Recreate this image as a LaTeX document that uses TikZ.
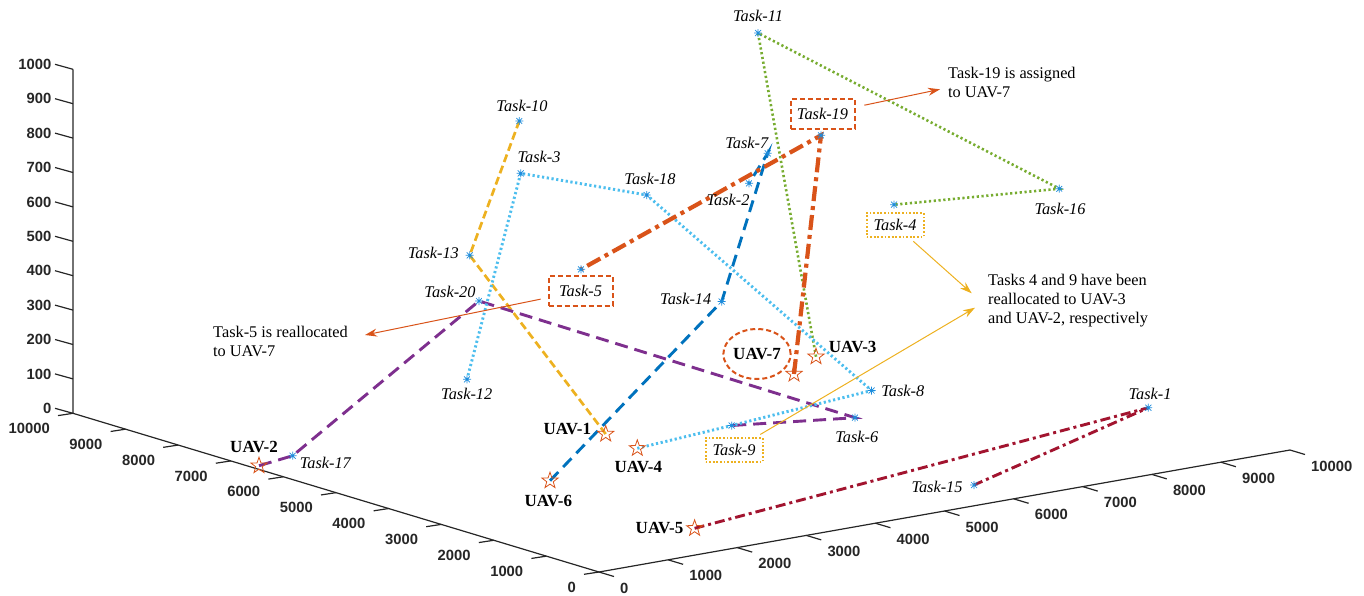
\documentclass[tikz,border=0pt]{standalone}
\usepackage{fontspec}
\setmainfont{Liberation Serif}
\setsansfont{Liberation Sans}
\usepackage{tikz}
\usetikzlibrary{shapes.geometric, arrows.meta, positioning, backgrounds}
\definecolor{uavR}{RGB}{217, 83, 25}
\definecolor{uavY}{RGB}{237,177, 32}
\definecolor{uavP}{RGB}{126, 47,142}
\definecolor{uavG}{RGB}{119,172, 48}
\definecolor{uavC}{RGB}{ 77,190,238}
\definecolor{uavB}{RGB}{  0,114,189}
\definecolor{uavM}{RGB}{162, 20, 47}
\definecolor{mkB}{RGB}{ 30,140,220}

\begin{document}
\begin{tikzpicture}[x=1pt, y=-1pt,
    ax/.style={line width=1.2pt, black!85},
    axnum/.style={font=\fontsize{14.8}{16}\selectfont\sffamily\bfseries, text=black!85, inner sep=0pt},
    tpt/.style={circle, minimum size=9pt, inner sep=0pt,
      path picture={\draw[mkB, line width=0.7pt]
        ([xshift=-4pt]path picture bounding box.center) -- ([xshift=4pt]path picture bounding box.center)
        ([yshift=-4pt]path picture bounding box.center) -- ([yshift=4pt]path picture bounding box.center)
        ([shift={(-3pt,-3pt)}]path picture bounding box.center) -- ([shift={(3pt,3pt)}]path picture bounding box.center)
        ([shift={(-3pt,3pt)}]path picture bounding box.center) -- ([shift={(3pt,-3pt)}]path picture bounding box.center);}},
    uav/.style={star, star points=5, star point ratio=2.5, draw=uavR, line width=0.8pt, minimum size=17pt, inner sep=0pt},
    tlab/.style={font=\fontsize{16.3}{18}\selectfont\itshape, inner sep=0pt},
    ulab/.style={font=\fontsize{17}{19}\selectfont\bfseries, inner sep=0pt},
    note/.style={font=\fontsize{16.3}{19}\selectfont, align=left, inner sep=0pt},
    rbox/.style={tlab, draw=uavR, line width=2pt, dash pattern=on 5pt off 3pt, minimum width=64pt, minimum height=30pt},
    ybox/.style={tlab, draw=uavY, line width=2pt, dash pattern=on 1.8pt off 1.8pt, minimum width=57pt, minimum height=24pt},
    arr/.style={line width=1pt, -{Stealth[length=12pt, width=8pt]}},
    rY/.style={uavY, line width=2.7pt, dash pattern=on 8pt off 4pt},
    rP/.style={uavP, line width=2.9pt, dash pattern=on 13pt off 7pt},
    rG/.style={uavG, line width=2.6pt, dash pattern=on 2.2pt off 2.6pt},
    rC/.style={uavC, line width=2.9pt, dash pattern=on 2.2pt off 2.6pt},
    rM/.style={uavM, line width=2.9pt, dash pattern=on 10pt off 4pt on 3pt off 4pt},
    rB/.style={uavB, line width=2.9pt, dash pattern=on 12pt off 7pt},
    rR/.style={uavR, line width=4.2pt, dash pattern=on 15pt off 5pt on 4pt off 5pt}
  ]
  \useasboundingbox (0,0) rectangle (1364,595);

  % axes
  \coordinate (o) at (73,413.3);
  \coordinate (c) at (599,572);
  \coordinate (e) at (1290,450);
  \draw[ax] (73,69.3) -- (o) -- (c) -- (e);
  \foreach \k in {0,...,10} {
    \draw[ax] (73,{413.3-34.4*\k}) -- ++(-18,-5)
      node[axnum, anchor=east, xshift=-3pt] {\the\numexpr100*\k\relax};
    \draw[ax] ({599-52.6*\k},{572-15.87*\k}) -- ++(-15,2.3);
    \node[axnum, anchor=east] at ({599-52.6*\k-23},{572-15.87*\k+15}) {\the\numexpr1000*\k\relax};
    \draw[ax] ({599+69.1*\k},{572-12.2*\k}) -- ++(15,4.5);
    \node[axnum, anchor=west] at ({599+69.1*\k+21},{572-12.2*\k+16}) {\the\numexpr1000*\k\relax};
  }

  % tasks
  \foreach \n/\x/\y in {1/1148.3/407.7, 2/749/183.3, 3/520.7/173.3, 4/894/204.7,
      5/581/269.3, 6/855/417.7, 7/767.7/153.3, 8/871.5/390.5, 9/731.7/425.5,
      10/519.3/121, 11/758/33, 12/467/379.3, 13/469.7/255.3, 14/721.7/301.5,
      15/974/485, 16/1059.3/188.7, 17/292.7/455.7, 18/646.7/195, 19/821/135.3,
      20/479/301} {
    \node[tpt] (t\n) at (\x,\y) {};
  }
  \foreach \n/\x/\y in {1/1150/394, 2/728/200, 3/539/156.7, 6/856.7/437.3,
      7/746.7/142.7, 8/902.7/391.3, 10/522/105.7, 11/758/15.7, 12/466.7/394,
      13/433.3/252.7, 14/685.7/299.3, 15/937/486.7, 16/1060/209.3,
      17/325.3/463.3, 18/650/179.3, 20/450/292} {
    \node[tlab] (l\n) at (\x,\y) {Task-\n};
  }

  % UAVs
  \foreach \n/\x/\y in {1/605.7/434, 2/259/465.7, 3/816/356.7, 4/637.3/448.3,
      5/694.6/528.3, 6/550/480.7, 7/794/374} {
    \node[uav] (u\n) at (\x,\y) {};
  }
  \foreach \n/\x/\y in {1/567.3/429.3, 2/254/447.3, 3/852.7/347.3, 4/638.3/466.7,
      5/659.5/528, 6/548.3/500.7} {
    \node[ulab] (m\n) at (\x,\y) {UAV-\n};
  }
  \node[ulab, ellipse, draw=uavR, line width=2pt, dash pattern=on 5pt off 3pt,
        minimum width=64pt, minimum height=50pt] (m7) at (757,354) {UAV-7};

  % highlighted tasks
  \node[rbox] (b5) at (580.5,291) {Task-5};
  \node[rbox] (b19) at (822.5,114) {Task-19};
  \node[ybox] (b4) at (895,225) {Task-4};
  \node[ybox] (b9) at (734,450) {Task-9};

  % notes
  \node[note, anchor=west] (n5) at (213,341) {Task-5 is reallocated\\to UAV-7};
  \node[note, anchor=west] (n19) at (948,82) {Task-19 is assigned\\to UAV-7};
  \node[note, anchor=west] (n49) at (988,300.5) {Tasks 4 and 9 have been\\reallocated to UAV-3\\and UAV-2, respectively};
  \coordinate (a5) at (365,335);
  \coordinate (a19) at (940,89.3);
  \coordinate (a4) at (971.7,293.3);
  \coordinate (a9) at (975,307.7);

  % routes
  \begin{scope}[on background layer]
    \draw[rY] (u1.center) -- (t13.center) -- (t10.center);
    \draw[rP] (u2.center) -- (t17.center) -- (t20.center) -- (t6.center) -- (t9.center);
    \draw[rG] (u3.center) -- (t11.center) -- (t16.center) -- (t4.center);
    \draw[rC] (u4.center) -- (t9.center) -- (t8.center) -- (t18.center) -- (t3.center) -- (t12.center);
    \draw[rM] (u5.center) -- (t1.center) -- (t15.center);
    \draw[rB] (u6.center) -- (t14.center) -- (t7.center) -- (t2.center);
    \draw[rR] (u7.center) -- (t19.center) -- (t5.center);
  \end{scope}

  \draw[arr, uavR, shorten <=7pt] (b5) -- (a5);
  \draw[arr, uavR, shorten <=9pt] (b19) -- (a19);
  \draw[arr, uavY, shorten <=5pt] (b4) -- (a4);
  \draw[arr, uavY, shorten <=5pt] (b9) -- (a9);
\end{tikzpicture}
\end{document}
